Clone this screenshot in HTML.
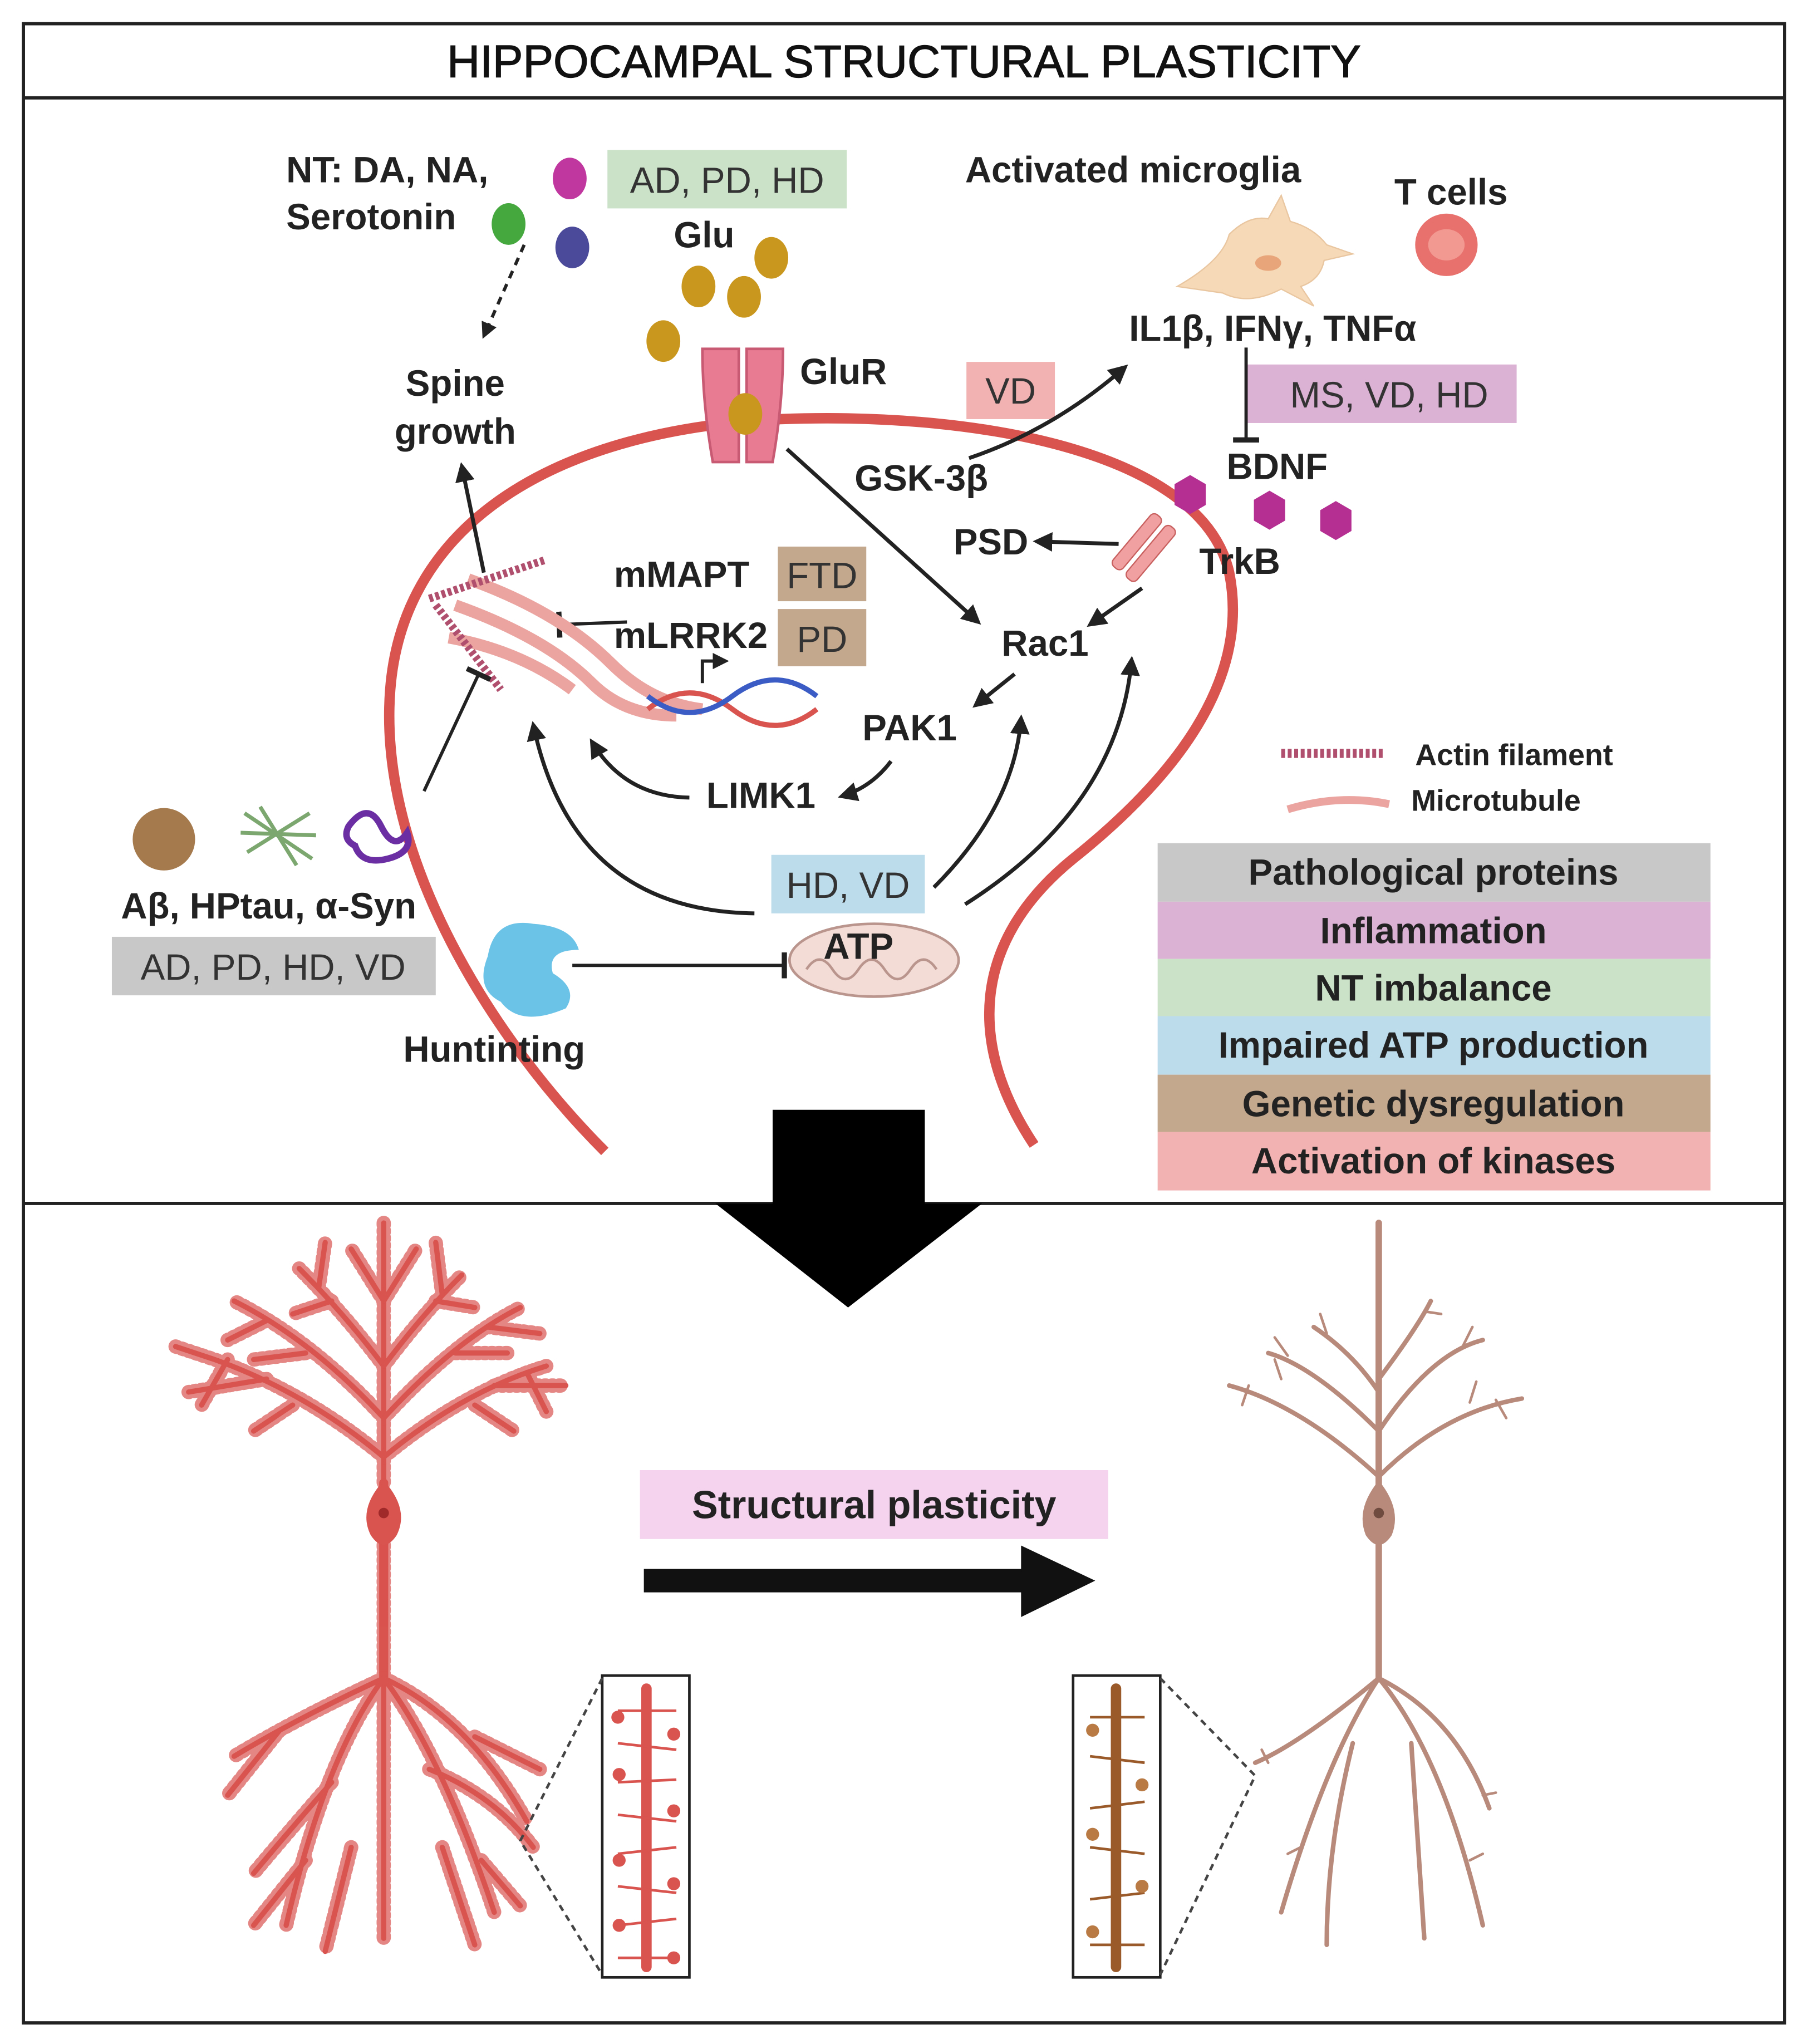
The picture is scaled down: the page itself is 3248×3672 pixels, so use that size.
<!DOCTYPE html>
<html><head><meta charset="utf-8"><style>
html,body{margin:0;padding:0;background:#fff}
svg{display:block}
text{font-family:"Liberation Sans",sans-serif}
.b{font-weight:bold;font-size:28px;fill:#222}
.r{font-size:28px;fill:#333}
</style></head><body>
<svg width="3248" height="3672" viewBox="0 0 1390 1571" xmlns="http://www.w3.org/2000/svg">
<defs>
<marker id="ah" viewBox="0 0 10 10" refX="8" refY="5" markerWidth="5" markerHeight="5" orient="auto"><path d="M0,0 L10,5 L0,10 z" fill="#222"/></marker>
<marker id="bar" viewBox="0 0 4 20" refX="2" refY="10" markerWidth="3" markerHeight="8" orient="auto"><rect x="0" y="0" width="4" height="20" fill="#222"/></marker>
<g id="apical">
<path d="M0,-200 L0,0"/>
<path d="M0,-20 Q-60,-70 -130,-95 L-160,-105"/><path d="M0,-20 Q60,-70 125,-90"/>
<path d="M0,-50 Q-55,-110 -115,-140"/><path d="M0,-50 Q55,-110 105,-135"/>
<path d="M0,-90 Q-30,-130 -65,-165"/><path d="M0,-90 Q30,-130 60,-160"/>
<path d="M0,-140 L-25,-180"/><path d="M0,-140 L25,-180"/>
<path d="M-70,-60 L-100,-40"/><path d="M-90,-80 L-150,-70"/><path d="M-120,-95 L-140,-60"/>
<path d="M70,-60 L100,-40"/><path d="M85,-75 L140,-75"/><path d="M110,-85 L125,-55"/>
<path d="M-60,-100 L-100,-95"/><path d="M-90,-125 L-120,-110"/><path d="M55,-100 L95,-100"/><path d="M80,-120 L120,-115"/>
<path d="M-40,-140 L-70,-130"/><path d="M40,-140 L70,-135"/><path d="M-50,-150 L-45,-185"/><path d="M45,-145 L40,-185"/>
</g>
<g id="basal">
<path d="M0,0 L0,130"/>
<path d="M0,130 Q-45,190 -75,320"/><path d="M0,130 Q45,190 85,310"/>
<path d="M0,130 Q-65,160 -115,190"/><path d="M0,130 Q65,160 110,240"/>
<path d="M-40,210 Q-75,250 -100,280"/><path d="M35,200 Q85,220 115,260"/>
<path d="M0,130 L0,330"/><path d="M-25,260 L-45,340"/><path d="M45,260 L70,335"/>
<path d="M-80,170 L-120,220"/><path d="M70,175 L120,200"/><path d="M-60,270 L-100,320"/><path d="M75,270 L105,305"/>
</g>
</defs>
<rect x="0" y="0" width="1390" height="1571" fill="#fff"/>
<rect x="18" y="18" width="1354" height="1537" fill="none" stroke="#222" stroke-width="2.5"/>
<line x1="18" y1="75" x2="1372" y2="75" stroke="#222" stroke-width="2.5"/>
<line x1="18" y1="925" x2="1372" y2="925" stroke="#222" stroke-width="2.5"/>
<text x="695" y="59" text-anchor="middle" style="font-size:35px;fill:#111;stroke:#111;stroke-width:0.6">HIPPOCAMPAL STRUCTURAL PLASTICITY</text>

<path d="M465,885 C380,800 290,660 300,530 C310,400 430,330 600,322 C760,316 925,350 945,440 C962,525 900,600 825,660 C745,725 745,805 795,880" fill="none" stroke="#d9534f" stroke-width="8"/>

<rect x="594" y="853" width="117" height="75" fill="#000"/>
<path d="M550,925 L755,925 L652,1005 z" fill="#000"/>

<g class="b" text-anchor="middle">
<rect x="890" y="648" width="425" height="45" fill="#c8c8c8"/><text x="1102" y="680">Pathological proteins</text>
<rect x="890" y="693" width="425" height="44" fill="#dbb1d4"/><text x="1102" y="725">Inflammation</text>
<rect x="890" y="737" width="425" height="44" fill="#cbe2c9"/><text x="1102" y="769">NT imbalance</text>
<rect x="890" y="781" width="425" height="45" fill="#bcdcec"/><text x="1102" y="813">Impaired ATP production</text>
<rect x="890" y="826" width="425" height="44" fill="#c4a88e"/><text x="1102" y="858">Genetic dysregulation</text>
<rect x="890" y="870" width="425" height="45" fill="#f1b2b1"/><text x="1102" y="902">Activation of kinases</text>
</g>
<line x1="985" y1="579" x2="1065" y2="579" stroke="#b0506e" stroke-width="7" stroke-dasharray="3 2"/>
<text x="1088" y="588" style="font-size:23px;font-weight:bold;fill:#222">Actin filament</text>
<path d="M990,622 Q1030,610 1068,618" fill="none" stroke="#eba4a0" stroke-width="6"/>
<text x="1085" y="623" style="font-size:23px;font-weight:bold;fill:#222">Microtubule</text>

<text x="220" y="140" class="b">NT: DA, NA,</text>
<text x="220" y="176" class="b">Serotonin</text>
<ellipse cx="438" cy="137" rx="13" ry="16" fill="#c0379f"/>
<ellipse cx="391" cy="172" rx="13" ry="16" fill="#44a83f"/>
<ellipse cx="440" cy="190" rx="13" ry="16" fill="#4b4a9a"/>
<rect x="467" y="115" width="184" height="45" fill="#cbe2c9"/><text x="559" y="148" class="r" text-anchor="middle">AD, PD, HD</text>
<text x="518" y="190" class="b">Glu</text>
<g fill="#c9961e"><ellipse cx="593" cy="198" rx="13" ry="16"/><ellipse cx="537" cy="220" rx="13" ry="16"/><ellipse cx="572" cy="228" rx="13" ry="16"/><ellipse cx="510" cy="262" rx="13" ry="16"/></g>
<path d="M403,188 L372,258" stroke="#222" stroke-width="2.5" stroke-dasharray="6 5" marker-end="url(#ah)"/>
<text x="350" y="304" class="b" text-anchor="middle">Spine</text>
<text x="350" y="341" class="b" text-anchor="middle">growth</text>
<path d="M372,440 L355,358" stroke="#222" stroke-width="3" marker-end="url(#ah)"/>
<path d="M540,268 L568,268 L568,355 L548,355 Q540,310 540,268z M574,268 L602,268 Q602,310 594,355 L574,355z" fill="#e87a92" stroke="#c95a74" stroke-width="2"/>
<ellipse cx="573" cy="318" rx="13" ry="16" fill="#c9961e"/>
<text x="615" y="295" class="b">GluR</text>

<text x="742" y="140" class="b">Activated microglia</text>
<path d="M905,220 Q940,200 945,180 Q960,165 975,168 L985,150 L992,170 Q1010,175 1020,188 L1040,195 L1018,200 Q1015,215 1000,220 L1010,235 L985,222 Q960,235 940,225 Z" fill="#f6d9b7" stroke="#e9c6a0"/>
<ellipse cx="975" cy="202" rx="10" ry="6" fill="#e8a57a"/>
<text x="1072" y="157" class="b">T cells</text>
<circle cx="1112" cy="188" r="24" fill="#e8716d"/><ellipse cx="1112" cy="188" rx="14" ry="12" fill="#f29a92"/>
<text x="868" y="262" class="b">IL1β, IFNγ, TNFα</text>
<rect x="743" y="278" width="68" height="44" fill="#f1b2b1"/><text x="777" y="310" class="r" text-anchor="middle">VD</text>
<rect x="957" y="280" width="209" height="45" fill="#dbb1d4"/><text x="1068" y="313" class="r" text-anchor="middle">MS, VD, HD</text>
<path d="M958,267 L958,338" stroke="#222" stroke-width="2.5" marker-end="url(#bar)"/>
<text x="943" y="368" class="b">BDNF</text>
<g fill="#b52f93"><polygon points="903,372 915,365 927,372 927,388 915,395 903,388"/><polygon points="964,384 976,377 988,384 988,400 976,407 964,400"/><polygon points="1015,392 1027,385 1039,392 1039,408 1027,415 1015,408"/></g>
<text x="657" y="377" class="b">GSK-3β</text>
<path d="M745,352 Q810,330 865,282" fill="none" stroke="#222" stroke-width="3" marker-end="url(#ah)"/>
<g transform="rotate(40 880 420)"><rect x="868" y="395" width="10" height="52" rx="4" fill="#f0a0a0" stroke="#c96060"/><rect x="882" y="395" width="10" height="52" rx="4" fill="#f0a0a0" stroke="#c96060"/></g>
<text x="922" y="441" class="b">TrkB</text>
<text x="733" y="426" class="b">PSD</text>
<path d="M860,418 L797,416" stroke="#222" stroke-width="3" marker-end="url(#ah)"/>
<path d="M878,452 L838,480" stroke="#222" stroke-width="3" marker-end="url(#ah)"/>
<text x="770" y="504" class="b">Rac1</text>
<path d="M605,345 L752,478" stroke="#222" stroke-width="3" marker-end="url(#ah)"/>

<text x="472" y="451" class="b">mMAPT</text>
<rect x="598" y="420" width="68" height="42" fill="#c4a88e"/><text x="632" y="452" class="r" text-anchor="middle">FTD</text>
<text x="472" y="498" class="b">mLRRK2</text>
<rect x="598" y="468" width="68" height="44" fill="#c4a88e"/><text x="632" y="501" class="r" text-anchor="middle">PD</text>
<path d="M482,478 L430,480" stroke="#222" stroke-width="2.5" marker-end="url(#bar)"/>
<g fill="none">
<path d="M360,445 Q430,470 470,510 Q500,540 540,545" stroke="#eba4a0" stroke-width="9"/>
<path d="M350,465 Q420,490 455,525 Q480,550 520,550" stroke="#eba4a0" stroke-width="9"/>
<path d="M345,490 Q400,500 440,530" stroke="#eba4a0" stroke-width="9"/>
<path d="M330,460 L420,430" stroke="#b0506e" stroke-width="6" stroke-dasharray="3 2"/>
<path d="M335,465 L385,530" stroke="#b0506e" stroke-width="6" stroke-dasharray="3 2"/>
</g>
<path d="M498,545 Q530,520 563,545 T628,545" fill="none" stroke="#d9534f" stroke-width="4"/>
<path d="M498,535 Q530,560 563,535 T628,535" fill="none" stroke="#3a5cc4" stroke-width="4"/>
<path d="M540,525 L540,508 L558,508" fill="none" stroke="#222" stroke-width="2.5" marker-end="url(#ah)"/>
<text x="663" y="569" class="b">PAK1</text>
<path d="M780,518 L750,542" stroke="#222" stroke-width="3" marker-end="url(#ah)"/>
<text x="543" y="621" class="b">LIMK1</text>
<path d="M685,585 Q670,605 647,612" fill="none" stroke="#222" stroke-width="3" marker-end="url(#ah)"/>
<path d="M530,613 Q480,612 455,570" fill="none" stroke="#222" stroke-width="3" marker-end="url(#ah)"/>

<rect x="593" y="657" width="118" height="45" fill="#bcdcec"/><text x="652" y="690" class="r" text-anchor="middle">HD, VD</text>
<ellipse cx="672" cy="738" rx="65" ry="28" fill="#f3dcd6" stroke="#b9958e" stroke-width="2"/>
<path d="M620,745 q10,-15 20,0 q10,15 20,0 q10,-15 20,0 q10,15 20,0 q10,-15 20,0" fill="none" stroke="#b9958e" stroke-width="2"/>
<text x="660" y="737" class="b" text-anchor="middle">ATP</text>
<path d="M580,702 Q440,700 410,557" fill="none" stroke="#222" stroke-width="3" marker-end="url(#ah)"/>
<path d="M718,682 Q780,620 785,552" fill="none" stroke="#222" stroke-width="3" marker-end="url(#ah)"/>
<path d="M742,695 Q860,620 870,507" fill="none" stroke="#222" stroke-width="3" marker-end="url(#ah)"/>
<path d="M326,608 L368,518" stroke="#222" stroke-width="2.5" marker-end="url(#bar)"/>
<circle cx="126" cy="645" r="24" fill="#a57a4c"/>
<g stroke="#7ca870" stroke-width="3"><line x1="188" y1="625" x2="240" y2="660"/><line x1="190" y1="655" x2="238" y2="625"/><line x1="200" y1="620" x2="228" y2="665"/><line x1="185" y1="640" x2="243" y2="642"/></g>
<path d="M268,635 q15,-20 25,0 q10,20 20,5 q5,15 -15,20 q-20,5 -25,-10 q-10,-5 -5,-15z" fill="none" stroke="#6b2fa3" stroke-width="5"/>
<text x="93" y="706" class="b">Aβ, HPtau, α-Syn</text>
<rect x="86" y="720" width="249" height="45" fill="#c8c8c8"/><text x="210" y="753" class="r" text-anchor="middle">AD, PD, HD, VD</text>
<path d="M375,735 Q380,705 410,710 Q440,712 445,730 Q420,730 425,748 Q445,760 435,775 Q400,790 385,770 Q365,760 375,735z" fill="#6cc3e8"/>
<text x="310" y="816" class="b">Huntinting</text>
<path d="M440,742 L603,742" stroke="#222" stroke-width="2.5" marker-end="url(#bar)"/>

<rect x="492" y="1130" width="360" height="53" fill="#f5d3ef"/>
<text x="672" y="1167" class="b" text-anchor="middle" style="font-size:30px">Structural plasticity</text>
<rect x="495" y="1206" width="295" height="18" fill="#111"/>
<path d="M785,1188 L842,1215 L785,1243z" fill="#111"/>

<!-- left neuron -->
<g stroke="#d9534f" fill="none" stroke-linecap="round">
<g transform="translate(295,1140)" stroke-width="4"><use href="#apical"/></g>
<g transform="translate(295,1140)" stroke-width="11" stroke-dasharray="1.5 4" opacity="0.7"><use href="#apical"/></g>
<path d="M295,1140 L295,1290" stroke-width="7"/>
<g transform="translate(295,1160)" stroke-width="4"><use href="#basal"/></g>
<g transform="translate(295,1160)" stroke-width="11" stroke-dasharray="1.5 4" opacity="0.7"><use href="#basal"/></g>
</g>
<path d="M295,1138 Q315,1160 305,1180 Q295,1195 285,1180 Q275,1160 295,1138z" fill="#d9534f"/>
<circle cx="295" cy="1163" r="4" fill="#a02a2a"/>

<!-- right neuron -->
<g stroke="#b88a7c" fill="none" stroke-linecap="round">
<path d="M1060,940 L1060,1290" stroke-width="5"/>
<g stroke-width="3.5">
<path d="M1060,1135 Q1000,1080 945,1065"/><path d="M1060,1135 Q1110,1085 1170,1075"/>
<path d="M1060,1100 Q1010,1050 975,1040"/><path d="M1060,1100 Q1100,1040 1140,1030"/>
<path d="M1060,1070 Q1040,1040 1010,1020"/><path d="M1060,1060 Q1090,1020 1100,1000"/>
<path d="M1060,1290 Q1020,1350 985,1470"/><path d="M1060,1290 Q1110,1350 1140,1480"/>
<path d="M1060,1290 Q1000,1340 965,1355"/><path d="M1060,1290 Q1120,1320 1145,1390"/>
<path d="M1040,1340 Q1020,1420 1020,1495"/><path d="M1085,1340 Q1090,1420 1095,1490"/>
</g>
<g stroke-width="2">
<path d="M985,1060 L980,1045"/><path d="M960,1065 L955,1080"/><path d="M1130,1078 L1135,1062"/><path d="M1150,1076 L1158,1090"/>
<path d="M990,1042 L980,1028"/><path d="M1125,1034 L1132,1020"/><path d="M1020,1025 L1015,1010"/><path d="M1095,1008 L1108,1010"/>
<path d="M1000,1420 L990,1425"/><path d="M1130,1430 L1140,1425"/><path d="M975,1355 L970,1345"/><path d="M1140,1380 L1150,1378"/>
</g>
</g>
<path d="M1060,1138 Q1078,1160 1070,1180 Q1060,1195 1050,1180 Q1042,1160 1060,1138z" fill="#b88a7c"/>
<circle cx="1060" cy="1163" r="4" fill="#6e4a3f"/>

<rect x="463" y="1288" width="67" height="232" fill="#fff" stroke="#222" stroke-width="2"/>
<line x1="497" y1="1298" x2="497" y2="1512" stroke="#d9534f" stroke-width="8" stroke-linecap="round"/>
<g stroke="#d9534f" stroke-width="2">
<line x1="475" y1="1315" x2="520" y2="1315"/><line x1="475" y1="1340" x2="520" y2="1345"/><line x1="475" y1="1370" x2="520" y2="1368"/><line x1="475" y1="1395" x2="520" y2="1400"/><line x1="475" y1="1425" x2="520" y2="1420"/><line x1="475" y1="1450" x2="520" y2="1455"/><line x1="475" y1="1480" x2="520" y2="1475"/><line x1="475" y1="1505" x2="520" y2="1505"/>
</g>
<g fill="#d9534f"><circle cx="475" cy="1320" r="5"/><circle cx="518" cy="1333" r="5"/><circle cx="476" cy="1364" r="5"/><circle cx="518" cy="1392" r="5"/><circle cx="476" cy="1430" r="5"/><circle cx="518" cy="1448" r="5"/><circle cx="476" cy="1480" r="5"/><circle cx="518" cy="1505" r="5"/></g>
<path d="M463,1290 L400,1415 L463,1518" fill="none" stroke="#444" stroke-width="2" stroke-dasharray="5 4"/>

<rect x="825" y="1288" width="67" height="232" fill="#fff" stroke="#222" stroke-width="2"/>
<line x1="858" y1="1298" x2="858" y2="1512" stroke="#9a5a2a" stroke-width="8" stroke-linecap="round"/>
<g stroke="#9a5a2a" stroke-width="2">
<line x1="838" y1="1320" x2="880" y2="1320"/><line x1="838" y1="1350" x2="880" y2="1355"/><line x1="838" y1="1390" x2="880" y2="1385"/><line x1="838" y1="1420" x2="880" y2="1425"/><line x1="838" y1="1460" x2="880" y2="1455"/><line x1="838" y1="1495" x2="880" y2="1495"/>
</g>
<g fill="#b97a44"><circle cx="840" cy="1330" r="5"/><circle cx="878" cy="1372" r="5"/><circle cx="840" cy="1410" r="5"/><circle cx="878" cy="1450" r="5"/><circle cx="840" cy="1485" r="5"/></g>
<path d="M892,1290 L965,1365 L892,1518" fill="none" stroke="#444" stroke-width="2" stroke-dasharray="5 4"/>
</svg>
</body></html>
